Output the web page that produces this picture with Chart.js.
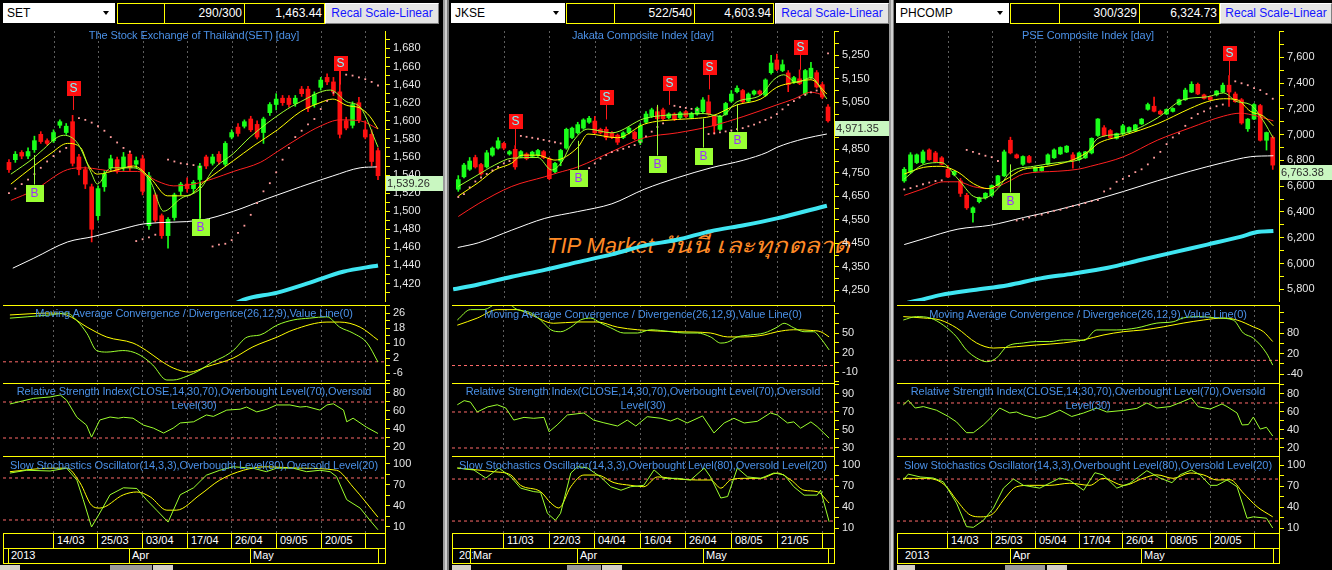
<!DOCTYPE html>
<html>
<head>
<meta charset="utf-8">
<title>TIP Market</title>
<script src="https://cdn.jsdelivr.net/npm/chart.js@4.4.1/dist/chart.umd.min.js"></script>
<style>
  html, body { margin: 0; padding: 0; background: #000; }
  body { width: 1332px; height: 570px; position: relative; overflow: hidden; font-family: "Liberation Sans", Arial, sans-serif; }
  .a { position: absolute; box-sizing: border-box; }
  .dd { background: #fff; color: #000; font-size: 12px; line-height: 20px; padding-left: 4px; height: 20px; }
  .dd::after { content: ''; position: absolute; right: 6px; top: 8px; border-left: 3px solid transparent; border-right: 3px solid transparent; border-top: 4px solid #000; }
  .bx { height: 21px; border: 1px solid #ff0; color: #fff; font-size: 12px; line-height: 19px; text-align: right; padding-right: 2px; }
  .btn { height: 21px; background: #e4e4e4; border: 1px solid; border-color: #fff #808080 #808080 #fff; color: #1414ff; font-size: 12px; line-height: 19px; text-align: center; }
  .ttl { color: #4a90e6; font-size: 11px; line-height: 13px; text-align: center; letter-spacing: -0.1px; white-space: nowrap; z-index: 3; }
  .hl { background: #ff0; height: 1px; z-index: 3; }
  .vl { background: #ff0; width: 1px; z-index: 3; }
  .lbl { color: #fff; font-size: 11px; line-height: 13px; z-index: 3; white-space: nowrap; }
  .wm { color: #ff8a26; font-size: 22px; font-style: italic; white-space: nowrap; z-index: 1; line-height: 26px; }
  .wm span { display: inline-block; transform: scaleX(1.17); transform-origin: 0 50%; }
  canvas { position: absolute; z-index: 2; }
</style>
</head>
<body>
<script>
// ==========================
// SET (Thailand)
// ==========================
const setOpen  = [1554,1557,1565,1561,1568,1585,1578,1578,1595,1587,1599,1560,1546,1527,1495,1527,1548,1557,1548,1563,1552,1558,1484,1518,1495,1473,1493,1522,1530,1525,1535,1560,1553,1563,1552,1582,1593,1594,1602,1596,1587,1609,1618,1625,1625,1619,1635,1635,1618,1637,1648,1643,1632,1600,1595,1620,1590,1585,1567];
const setHigh  = [1557,1566,1567,1570,1583,1588,1580,1590,1601,1597,1606,1563,1549,1530,1528,1545,1562,1560,1565,1566,1560,1562,1543,1520,1497,1493,1520,1532,1537,1534,1553,1562,1563,1566,1577,1590,1597,1601,1605,1600,1604,1620,1630,1628,1628,1628,1638,1638,1632,1648,1652,1648,1656,1604,1621,1626,1600,1590,1570];
const setLow   = [1543,1554,1558,1558,1565,1575,1573,1576,1592,1585,1550,1540,1525,1466,1490,1522,1545,1542,1545,1545,1548,1518,1480,1488,1470,1459,1490,1518,1521,1520,1489,1547,1551,1552,1550,1580,1583,1592,1588,1580,1575,1606,1612,1617,1615,1616,1627,1610,1615,1634,1640,1628,1581,1590,1592,1598,1580,1550,1535];
const setClose = [1546,1563,1561,1566,1578,1577,1575,1587,1599,1594,1553,1546,1530,1480,1525,1541,1558,1545,1560,1548,1556,1522,1539,1490,1473,1491,1518,1530,1525,1532,1550,1550,1560,1555,1575,1587,1586,1599,1590,1582,1602,1618,1624,1620,1618,1625,1630,1614,1629,1645,1643,1632,1585,1592,1618,1601,1582,1555,1539.26];
const setSar   = [1520,1525,1530,1535,1541,1548,1555,1561,1566,1570,null,1603,1601,1598,1594,1589,1582,1576,1570,1566,1467,1469,1471,1474,null,1557,1555,1553,1552,1551,1549,null,1461,1463,1464,1468,1476,1484,1496,1509,1522,1531,1543,1557,1570,1582,1589,1596,1602,1613,1622,1631,null,1651,1650,1648,1646,1643,1639];
const setMaGreen  = [[0.3,1541],[3.9,1559],[5,1566],[8.6,1584],[10.8,1575],[12.9,1543],[13.9,1530],[16,1548],[19.6,1548],[22.3,1532],[24.3,1500],[27,1514],[30.1,1525],[32.1,1546],[35.3,1564],[37.9,1582],[43.1,1610],[45.8,1621],[50.5,1634],[53.1,1621],[55.2,1615],[58,1571]];
const setMaYellow = [[0.3,1530],[3.9,1550],[6.6,1564],[9.2,1575],[11.3,1570],[12.4,1552],[13.9,1541],[17.1,1546],[19.6,1550],[22.3,1536],[24.9,1517],[28.1,1517],[30.6,1532],[35.3,1556],[38.4,1572],[42.2,1590],[45.8,1610],[48.9,1620],[50.9,1624],[53.1,1617],[55.2,1614],[56.7,1605],[58,1591]];
const setMaRed    = [[0.3,1512],[3.9,1523],[9.2,1546],[11.8,1548],[17.1,1544],[20.2,1544],[23.4,1533],[25.9,1528],[29,1530],[32.1,1536],[35.3,1544],[39.5,1554],[42.2,1566],[45.8,1582],[48.9,1594],[52,1601],[55.2,1600],[58,1591]];
const setMaWhite  = [[0.6,1437],[3.9,1448],[9.2,1466],[13.3,1472],[18.7,1482],[21.2,1486],[30.1,1490],[35.3,1500],[40.6,1514],[45.8,1527],[50.9,1539],[55.2,1548],[57.8,1549]];
const setMaCyan   = [[34.8,1395],[36.8,1402],[42.2,1410],[47.3,1421],[52.5,1433],[58,1440]];
const setMacd   = [[0.3,23.3],[3,24],[6.6,25],[9.2,26],[10.8,22],[12.4,15],[13.9,6],[15.5,5.2],[18,6],[19.6,5.2],[21.2,2.5],[22.7,-1.7],[24.9,-9.7],[25.9,-9.7],[28.1,-7.6],[30.1,-4.4],[32.1,0],[33.7,2.5],[35.3,6],[37.5,13.2],[39.5,14.3],[42.2,19.6],[44.7,22.3],[47.3,23.3],[50,24],[52,18.5],[54.1,15.3],[56.3,10],[58,-0.1]];
const setSignal = [[0.3,25],[6.6,26],[9.2,25],[12.4,18.5],[15.5,13.2],[19.6,10],[21.7,6],[23.8,0.9],[25.9,-3.3],[28.5,-5.5],[31,-2.8],[35.3,2],[38.4,8],[42.2,13.2],[44.7,17],[50,21.2],[52,21.2],[55.2,18.5],[58,11.6]];
const setRsi = [[0.3,67.8],[4,74],[6.6,75.6],[8.2,77.8],[9.2,72],[10.8,53],[12.3,44.4],[13.1,31],[14.4,50],[16,53.3],[17.3,52],[18.1,53],[19.6,52],[21.2,44.4],[22.8,41],[24.4,35.5],[25.9,41],[27,46.7],[29.1,48],[31.1,55.6],[32.2,54],[34.3,61],[36.4,62],[37.4,64.4],[39,59],[40.6,62],[42.1,66.7],[44.2,66.7],[45.8,64.4],[46.8,65],[48.9,61],[50,66.7],[51,68],[52.6,61],[53.1,48],[54.1,52],[56.2,42],[58,35]];
const setK = [[0.3,87],[2.9,91],[6.6,90],[9.2,94],[10.8,77],[11.8,49],[13.1,10],[14.4,30],[16,56],[18.1,66],[20.2,65],[21.7,49],[23.3,34],[25.1,17],[27,56],[29.1,66],[31.1,84],[33.2,91],[35.3,96],[38.4,94],[40.5,89],[42.1,94],[44.7,94],[46.8,89],[48.9,91],[50.5,89],[51.5,82],[53.1,49],[55.2,37],[56.7,20],[58,6]];
const setD = [[0.3,89],[6.6,94],[9.2,94],[11.3,73],[13.1,41],[14.4,37],[18.1,56],[20.2,60],[22.3,53],[24.9,34],[26.4,34],[30.1,56],[33.2,77],[36.9,91],[40.5,96],[45.8,94],[51.5,91],[54.1,67],[58,24]];
const setSigIdx = [10, 52, 4, 30];
const setSigType = ['S', 'S', 'B', 'B'];
const setSigEnd = [1612, 1640, 1562, 1532];
const setSigBox = [1636, 1664, 1520, 1482];
const setPriceLabels = [1420,1440,1460,1480,1500,1520,1540,1560,1580,1600,1620,1640,1660,1680];
const setMacdLabels = [26, 18, 10, 2, -6];
const setRsiLabels = [80, 60, 40, 20];
const setStoLabels = [100, 70, 40, 10];
const setGridIdx = [7, 14, 21, 28, 35, 42, 49, 56];
const setDateLabels = ['14/03', '25/03', '03/04', '17/04', '26/04', '09/05', '20/05', ''];
const setMonthIdx = [0, 19, 38, 58];
const setMonthLabels = ['2013', 'Apr', 'May', ''];

// ==========================
// JKSE (Jakarta)
// ==========================
const jkOpen  = [4680,4733,4765,4815,4785,4775,4825,4855,4875,4830,4850,4820,4830,4820,4825,4840,4810,4755,4800,4855,4900,4920,4940,4965,4970,4935,4935,4920,4910,4900,4920,4922,4880,4965,4990,5010,5018,4985,5000,4985,5010,4985,5000,5010,5052,4990,4935,4998,5055,5095,5100,5055,5085,5098,5080,5176,5230,5185,5175,5135,5150,5085,5155,5176,5125,5030];
const jkHigh  = [4738,4790,4815,4825,4790,4845,4860,4900,4880,4845,4866,4845,4835,4842,4850,4845,4815,4795,4850,4940,4945,4965,4980,4990,4990,4940,4945,4925,4915,4925,4945,4928,4960,5010,5025,5030,5025,5005,5005,5010,5015,5008,5030,5070,5080,4995,4995,5050,5100,5120,5105,5090,5102,5102,5150,5250,5255,5230,5185,5160,5188,5190,5220,5185,5135,5040];
const jkLow   = [4671,4728,4760,4770,4740,4770,4820,4850,4848,4825,4765,4815,4805,4815,4820,4810,4720,4750,4780,4850,4895,4915,4935,4960,4915,4915,4890,4895,4870,4895,4915,4890,4870,4960,4985,4975,4975,4980,4972,4980,4985,4980,4995,5005,4995,4915,4930,4995,5050,5090,5045,5050,5080,5080,5075,5170,5185,5180,5095,5130,5125,5080,5150,5110,5065,4965];
const jkClose = [4721,4783,4800,4775,4745,4835,4855,4886,4855,4840,4775,4840,4810,4838,4845,4815,4725,4790,4845,4935,4940,4955,4975,4982,4920,4920,4900,4900,4880,4920,4940,4895,4950,5000,5018,4980,4980,5000,4978,5005,4990,5002,5025,5060,5000,4950,4990,5045,5085,5110,5052,5085,5098,5085,5145,5217,5190,5210,5125,5155,5130,5185,5195,5115,5072,4971.35];
const jkSar   = [4647,4659,4688,4713,4730,4745,4760,4775,4790,4800,null,4907,4903,4899,4895,4890,4885,4880,4875,null,4742,4748,4755,4770,4790,4810,4825,4838,4845,4852,4860,4868,4880,4905,4925,4945,4960,null,5035,5030,5026,5022,5018,null,4915,4918,4922,4926,4930,4936,4940,4948,4955,4965,4975,4985,5000,5020,5039,5055,5070,5082,5092,5100,null,5258];
const jkMaGreen  = [[0,4692],[3.5,4742],[6.4,4783],[9.4,4812],[14,4815],[16.4,4762],[18.2,4796],[19.9,4874],[22.8,4936],[27,4920],[32.7,4981],[38.5,4998],[43.2,5002],[46.2,4990],[49,5052],[53.2,5081],[55.5,5147],[57.2,5167],[59.5,5134],[62,5155],[64.8,5064]];
const jkMaYellow = [[0,4651],[3.5,4708],[6.4,4762],[9.4,4791],[11.2,4825],[14,4825],[15.7,4812],[17,4804],[21,4858],[22.8,4915],[28,4899],[32.7,4957],[38.5,4977],[41.5,4981],[44.4,4990],[49,5039],[53.2,5064],[56,5114],[59,5134],[62,5146],[64.8,5085]];
const jkMaRed    = [[0,4564],[3.5,4618],[9.4,4692],[15.2,4733],[17.5,4750],[21,4775],[27,4840],[32.7,4899],[38.5,4920],[44.4,4948],[50.2,4990],[56,5039],[59,5064],[62,5093],[64.3,5080]];
const jkMaWhite  = [[-0.1,4432],[3.5,4452],[9.4,4506],[15.2,4556],[21,4585],[27,4618],[32.7,4680],[38.5,4729],[44.4,4771],[50.2,4804],[54.3,4837],[56,4858],[60.8,4895],[64.8,4915]];
const jkMaCyan   = [[-0.9,4254],[3.5,4275],[9.4,4308],[15.2,4337],[21,4370],[27,4403],[32.7,4440],[38.5,4465],[44.4,4502],[50.2,4527],[56,4556],[64.8,4610]];
const jkMacd   = [[0,70],[2.3,86],[4.7,86],[7,95],[8.8,95],[10.5,86],[12.9,81],[14.6,70],[16.4,55],[18.1,52],[19.9,59],[21.6,70],[23.4,73],[25.1,65.5],[26.9,58],[29.2,50],[31.6,50],[33.9,55],[37.4,52],[39.8,50],[42.1,50],[44.4,44],[46.2,34.5],[47.4,36],[49.1,44],[51.4,47],[53.8,50],[56.1,59],[57.3,65],[59,58],[60.8,52],[62.5,52],[63.7,42],[65.2,24]];
const jkSignal = [[0,62],[3.5,73],[7,86],[10.5,86],[12.9,78],[16.9,65],[21.1,67],[24.5,67],[28.1,59],[31.6,55],[38.6,52],[44.4,50],[47.4,44],[50.3,44],[53.8,47],[56.1,52],[59,55],[62,54],[63.7,52],[65.2,44]];
const jkRsi = [[0,78],[1.2,82.6],[2.3,81],[3.5,70],[5.3,75.6],[7,78],[8.5,74.4],[9.9,61],[11.7,64],[13.4,63],[15.2,64],[16.1,48],[17.5,55.6],[19.3,66.7],[22.2,68.9],[23.9,61],[25.7,58],[28.1,54.4],[29.8,61],[31.3,54.4],[33.3,64.8],[35.7,63],[37.4,60],[38.6,63],[40.3,57.8],[43,65.6],[45,46.7],[46.8,57.8],[48.5,63],[50.3,57.8],[52.6,59.6],[54.9,68.9],[56.1,66.7],[57.9,57.8],[59,59],[60.2,52],[62,59],[63.1,53.7],[65.2,41]];
const jkK = [[0,95.7],[2.9,92.9],[5,81.4],[7.3,95.7],[9.4,83],[11.1,67],[13.4,62],[14.6,61],[15.8,31],[17.2,21],[18.1,31],[19.9,88.6],[21.1,97.6],[22.8,96],[25.1,83],[26.9,69],[28.7,64],[30.4,69],[32.7,71],[34.5,93],[36.2,81],[38.6,81],[40.9,78.6],[43.3,95.7],[44.4,83],[46.2,52.9],[47.4,55],[49.1,95.7],[50.9,83],[53.2,81],[55.5,88.6],[57.3,86],[59,69],[60.8,57],[63.1,57],[63.7,64],[65.2,19]];
const jkD = [[0,95.7],[3.5,93],[6.4,90.5],[9.4,85.7],[11.1,71],[14.6,62],[16.4,45.7],[17.8,38.6],[19.9,69],[22.2,85.7],[24.5,85.7],[27.5,74.8],[30.4,71],[32.7,69],[35.1,83],[38.6,80],[42.1,78.6],[44.4,78.6],[46.2,67],[47.9,78.6],[50.3,81],[53.2,81],[56.1,88.6],[58.5,78.6],[60.8,64],[63.1,62],[65.2,45.7]];
const jkSigIdx = [10, 26, 37, 44, 60, 21, 35, 43, 49];
const jkSigType = ['S', 'S', 'S', 'S', 'S', 'B', 'B', 'B', 'B'];
const jkSigEnd = [4866, 4977, 5039, 5105, 5188, 4886, 5039, 4981, 5043];
const jkSigBox = [4969, 5072, 5134, 5200, 5287, 4729, 4787, 4820, 4889];
const jkPriceLabels = [4250,4350,4450,4550,4650,4750,4850,4950,5050,5150,5250];
const jkMacdLabels = [50, 20, -10];
const jkRsiLabels = [90, 70, 50, 30];
const jkStoLabels = [100, 70, 40, 10];
const jkGridIdx = [8, 16, 24, 32, 40, 48, 56, 64];
const jkDateLabels = ['11/03', '22/03', '04/04', '16/04', '26/04', '08/05', '21/05', ''];
const jkMonthIdx = [2.2, 21, 43, 65];
const jkMonthLabels = ['Mar', 'Apr', 'May', ''];

// ==========================
// PHCOMP (Philippines)
// ==========================
const phOpen  = [6641,6709,6783,6783,6881,6858,6820,6731,6690,6641,6529,6395,6480,6510,6530,6605,6680,6956,6843,6770,6830,6716,6720,6770,6820,6850,6865,6843,6806,6820,6858,6993,7053,7031,6971,7008,7020,7031,7083,7196,7220,7181,7160,7180,7233,7270,7330,7390,7308,7293,7308,7330,7383,7315,7270,7045,7120,7225,6956,6978];
const phHigh  = [6745,6860,6850,6880,6890,6870,6830,6760,6720,6660,6545,6440,6515,6550,6610,6685,6880,6980,6850,6835,6840,6750,6755,6850,6890,6905,6915,6860,6865,6870,6975,7125,7070,7040,7012,7080,7060,7080,7125,7245,7290,7190,7200,7208,7275,7360,7410,7400,7315,7300,7342,7400,7458,7330,7280,7125,7240,7235,7020,6990];
const phLow   = [6630,6700,6775,6775,6800,6785,6765,6665,6680,6520,6420,6320,6470,6500,6520,6600,6675,6850,6815,6760,6780,6710,6715,6765,6815,6845,6860,6740,6800,6815,6850,6985,6985,6970,6965,7000,7015,7025,7078,7190,7175,7155,7155,7175,7228,7265,7325,7310,7275,7265,7300,7325,7218,7250,7080,7025,7115,6950,6880,6730];
const phClose = [6731,6843,6843,6866,6806,6790,6770,6671,6715,6544,6432,6432,6510,6545,6605,6680,6866,6858,6820,6830,6785,6746,6750,6843,6881,6900,6910,6806,6858,6866,6971,7121,6993,6978,7008,7068,7055,7075,7120,7233,7181,7160,7195,7203,7270,7345,7390,7315,7280,7270,7338,7383,7330,7255,7090,7120,7233,6956,7016,6763.38];
const phSar   = [6575,6585,6600,6615,6628,6640,6645,null,null,null,6881,6866,6851,6836,6825,6795,null,null,6334,6342,6357,6372,6379,6394,6409,6417,6432,6447,6454,6469,6484,6492,6559,6581,6634,6656,6679,6709,6731,6769,6821,6866,6926,6978,7010,7068,7128,7160,7180,7203,7220,7233,null,7413,7398,7383,7360,7345,7315,7278];
const phMaGreen  = [[0,6656],[3.1,6768],[5.9,6783],[8.6,6656],[11.1,6521],[12.7,6507],[15,6581],[17,6709],[20.7,6754],[24.6,6783],[28.7,6821],[31,6971],[35.1,7008],[40.5,7128],[44.6,7270],[48.5,7293],[51.1,7323],[53.3,7255],[55.4,7233],[57.5,7106],[59.1,6971]];
const phMaYellow = [[0,6694],[3.1,6746],[5.9,6754],[8.6,6709],[11.1,6619],[13.4,6581],[15.9,6641],[19.1,6731],[21.8,6746],[27.1,6806],[29.8,6880],[31,6930],[35.1,6993],[40.5,7083],[45.8,7203],[48.5,7255],[51.1,7278],[53.3,7270],[55.4,7181],[57.5,7143],[59.1,7068]];
const phMaRed    = [[0,6529],[3.1,6581],[6.3,6634],[8.6,6634],[11.1,6596],[13.8,6581],[16.6,6634],[19.1,6694],[24.6,6716],[27.8,6731],[29.8,6754],[35.1,6828],[40.5,6956],[45.8,7053],[51.1,7143],[53.8,7166],[56.5,7143],[59.1,7106]];
const phMaWhite  = [[0,6147],[3.1,6192],[8.6,6267],[13.8,6297],[19.1,6357],[24.6,6417],[29.8,6484],[35.1,6559],[40.5,6641],[45.8,6716],[51.1,6783],[55.4,6828],[59.1,6836]];
const phMaCyan   = [[0,5690],[2.2,5713],[5.9,5757],[11.1,5795],[16.6,5832],[21.8,5885],[27.1,5922],[32.6,5967],[37.8,6027],[43.1,6087],[48.5,6147],[53.8,6207],[56.5,6244],[59.1,6252]];
const phMacd   = [[0,118],[2.1,128],[4.3,124],[6.4,103],[8.5,69],[10.1,30],[11.7,7],[13.3,-4],[14.9,7],[16.5,40],[19.2,51],[21.3,55],[23.4,55],[25.6,60],[27.7,60],[28.8,58],[30.9,89],[34.1,89],[37.3,95],[40.5,109],[43.1,113],[44.7,124],[47.4,128],[50.1,124],[52.7,118],[54.3,80],[55.9,65],[58,21],[59,-14]];
const phSignal = [[0,128],[3.2,124],[5.9,118],[8.5,95],[11.7,51],[14.4,36],[18.1,40],[21.3,45],[25.6,51],[28.8,60],[31.9,74],[35.2,84],[38.3,89],[41.5,98],[44.7,109],[47.9,118],[51.1,124],[53.3,118],[55.9,98],[57.5,84],[59,55]];
const phRsi = [[0,67.8],[0.8,73],[1.9,64.4],[3.2,66],[5.3,62],[7.2,55],[8.5,49],[10.1,37],[11.2,37],[12.8,45.6],[13.9,53],[15.4,64.4],[17,58.9],[18.1,60],[19.2,56.7],[21.3,53],[22.9,55.6],[25,62],[26.9,55],[28.8,58.9],[30.9,64.4],[32.5,60],[35.2,61.8],[37.3,64],[38.9,70],[40.5,64.4],[42.6,66],[44.2,70.4],[46,75.6],[47.1,65.9],[49,63.3],[50.9,68.9],[51.7,66],[53.3,58.9],[54.1,45.6],[55.1,46],[55.9,54.4],[57,41],[58,43],[59,33.3]];
const phK = [[0,78.6],[0.8,87],[2.7,83],[4.8,81.4],[6.4,76],[8.5,45.7],[10.1,12],[11.2,11],[12.8,21],[14.4,38.6],[16,67],[17.6,80],[19.2,71],[21.8,67],[25,81.4],[26.6,78],[28.8,64],[30.6,89],[31.9,86],[34.1,67],[36.2,74],[38.9,91.9],[41,81.4],[42.9,74.8],[44.2,86],[46,92.9],[47.4,86],[49,71],[50.1,71],[51.7,78.6],[53.3,69],[54.9,24],[55.9,26],[58,24],[59,10]];
const phD = [[0,81],[3.2,81],[5.3,78.6],[6.9,69],[8.5,50],[10.7,28.6],[12.3,26],[14.4,31],[16,50],[18.1,69],[20.2,71],[23.4,71],[26.6,74],[29.8,71],[31.9,81],[35.2,71],[38.3,81],[40.5,86],[43.1,81],[45.8,88.6],[47.9,86],[50.1,78.6],[52.2,79],[54.3,60],[56.5,40.5],[59,26]];
const phSigIdx = [52, 17];
const phSigType = ['S', 'B'];
const phSigEnd = [7458, 6769];
const phSigBox = [7630, 6484];
const phPriceLabels = [5800,6000,6200,6400,6600,6800,7000,7200,7400,7600];
const phMacdLabels = [80, 20, -40];
const phRsiLabels = [80, 60, 40, 20];
const phStoLabels = [100, 70, 40, 10];
const phGridIdx = [7, 14, 21, 28, 35, 42, 49, 56];
const phDateLabels = ['14/03', '25/03', '05/04', '17/04', '26/04', '08/05', '20/05', ''];
const phMonthIdx = [17, 38, 59];
const phMonthLabels = ['Apr', 'May', ''];

const levelMacd = [0];
const levelRsi = [70, 30];
const levelSto = [80, 20];

// ==========================
// STYLE
// ==========================
const UP = '#1aff1a', DN = '#ff1010';
const C_GREEN = '#9cff2e', C_YEL = '#ffff00', C_RED = '#ff2020', C_WHITE = '#ffffff', C_CYAN = '#3fe6f2';

const panels = [
  { left: 0, width: 444, axisW: 59, xMin: -0.78, xMax: 59.1,
    dd: [3, 115], boxes: [117, 164, 244, 324], btn: [325, 439],
    sym: 'SET', cnt: '290/300', val: '1,463.44',
    title: 'The Stock Exchange of Thailand(SET) [day]',
    o: setOpen, h: setHigh, l: setLow, c: setClose, sar: setSar,
    ma: [setMaCyan, setMaWhite, setMaRed, setMaYellow, setMaGreen],
    price: [1400.7, 1699.3, setPriceLabels], macd: [-11.3, 30.3, setMacdLabels], rsi: [10, 91.1, setRsiLabels], sto: [1.4, 111.4, setStoLabels],
    macdA: setMacd, macdB: setSignal, rsiA: setRsi, kA: setK, dA: setD,
    sig: [setSigIdx, setSigType, setSigEnd, setSigBox],
    grid: setGridIdx, dates: setDateLabels, months: setMonthIdx, monthLbl: setMonthLabels, year: null,
    macdTop: 307 },
  { left: 449, width: 441, axisW: 56, xMin: -0.93, xMax: 66.05,
    dd: [451, 565], boxes: [566, 614, 694, 773], btn: [775, 889],
    sym: 'JKSE', cnt: '522/540', val: '4,603.94',
    title: 'Jakata Composite Index [day]',
    o: jkOpen, h: jkHigh, l: jkLow, c: jkClose, sar: jkSar,
    ma: [jkMaCyan, jkMaWhite, jkMaRed, jkMaYellow, jkMaGreen],
    price: [4204.5, 5353.3, jkPriceLabels], macd: [-26.9, 93.1, jkMacdLabels], rsi: [21.1, 102.2, jkRsiLabels], sto: [2.9, 112.9, jkStoLabels],
    macdA: jkMacd, macdB: jkSignal, rsiA: jkRsi, kA: jkK, dA: jkD,
    sig: [jkSigIdx, jkSigType, jkSigEnd, jkSigBox],
    grid: jkGridIdx, dates: jkDateLabels, months: jkMonthIdx, monthLbl: jkMonthLabels, year: 7,
    macdTop: 308 },
  { left: 894, width: 438, axisW: 53, xMin: -1.0, xMax: 60.0,
    dd: [896, 1009], boxes: [1010, 1059, 1139, 1219], btn: [1220, 1332],
    sym: 'PHCOMP', cnt: '300/329', val: '6,324.73',
    title: 'PSE Composite Index [day]',
    o: phOpen, h: phHigh, l: phLow, c: phClose, sar: phSar,
    ma: [phMaCyan, phMaWhite, phMaRed, phMaYellow, phMaGreen],
    price: [5709.6, 7803.3, phPriceLabels], macd: [-66.3, 162, phMacdLabels], rsi: [11.1, 92.2, phRsiLabels], sto: [2.9, 112.9, phStoLabels],
    macdA: phMacd, macdB: phSignal, rsiA: phRsi, kA: phK, dA: phD,
    sig: [phSigIdx, phSigType, phSigEnd, phSigBox],
    grid: phGridIdx, dates: phDateLabels, months: phMonthIdx, monthLbl: phMonthLabels, year: 8,
    macdTop: 308 }
];

// ==========================
// HELPERS
// ==========================
function el(cls, x, y, w, h, txt, css) {
  const d = document.createElement('div');
  d.className = 'a ' + cls;
  d.style.left = x + 'px';
  d.style.top = y + 'px';
  if (w != null) d.style.width = w + 'px';
  if (h != null) d.style.height = h + 'px';
  if (txt) d.textContent = txt;
  if (css) Object.assign(d.style, css);
  document.body.appendChild(d);
  return d;
}

const pts = pairs => pairs.map(([x, y]) => ({ x, y }));

function tickList(labels, min, max) {
  const half = Math.abs(labels[1] - labels[0]) / 2;
  const out = [];
  for (let v = labels[0] - Math.ceil((labels[0] - min) / half) * half; v <= max; v += half) {
    if (v >= min) out.push(v);
  }
  return out;
}

function yScale(p, [min, max, labels], fmt) {
  const ticks = tickList(labels, min, max);
  return {
    position: 'right', min, max,
    afterBuildTicks: s => { s.ticks = ticks.map(value => ({ value })); },
    afterFit: s => { s.width = p.axisW; s.paddingTop = 0; s.paddingBottom = 0; },
    ticks: { autoSkip: false, color: '#e6e6e6', padding: 3, font: { size: 11 },
             callback: v => labels.includes(v) ? fmt(v) : '' },
    grid: { drawOnChartArea: false, color: '#ffff00', tickLength: 5 },
    border: { color: '#ffff00' }
  };
}

function lineSet(data, color, width, order, smooth) {
  return { type: 'line', data: pts(data), borderColor: color, borderWidth: width, pointRadius: 0,
           cubicInterpolationMode: smooth ? 'monotone' : 'default', tension: 0, clip: 0, order };
}

function levelSets(p, levels) {
  return levels.map(v => ({ type: 'line', data: [{ x: p.xMin, y: v }, { x: p.xMax, y: v }],
    borderColor: '#ff6a6a', borderWidth: 1, borderDash: [3, 3], pointRadius: 0, clip: 0, order: 20 }));
}

const vGrid = idxs => ({
  id: 'vgrid',
  beforeDatasetsDraw(chart) {
    const { ctx, chartArea: a, scales: { x } } = chart;
    ctx.save();
    ctx.strokeStyle = '#5e5e5e';
    ctx.lineWidth = 1;
    ctx.setLineDash([2, 3]);
    idxs.forEach(i => {
      const px = Math.round(x.getPixelForValue(i)) + 0.5;
      ctx.beginPath(); ctx.moveTo(px, a.top); ctx.lineTo(px, a.bottom); ctx.stroke();
    });
    ctx.restore();
  }
});

const sigPlugin = ([idx, type, end, box]) => ({
  id: 'signals',
  afterDatasetsDraw(chart) {
    const { ctx, scales: { x, y } } = chart;
    ctx.save();
    ctx.font = '12px "Liberation Sans", Arial, sans-serif';
    ctx.textAlign = 'center';
    ctx.textBaseline = 'middle';
    idx.forEach((i, k) => {
      const isS = type[k] === 'S';
      const w = isS ? 14 : 18, h = isS ? 15 : 17;
      const px = Math.round(x.getPixelForValue(i)) + 0.5;
      const by = Math.round(y.getPixelForValue(box[k]));
      const ey = y.getPixelForValue(end[k]);
      ctx.strokeStyle = isS ? '#ff1a1a' : '#99ff33';
      ctx.lineWidth = 1;
      ctx.beginPath(); ctx.moveTo(px, isS ? by + h / 2 : by - h / 2); ctx.lineTo(px, ey); ctx.stroke();
      ctx.fillStyle = isS ? '#ff1010' : '#99ff33';
      ctx.fillRect(Math.round(px - w / 2), Math.round(by - h / 2), w, h);
      ctx.fillStyle = isS ? '#7ff7ff' : '#9a33ff';
      ctx.fillText(type[k], px, by + 1);
    });
    ctx.restore();
  }
});

const lastPlugin = val => ({
  id: 'lastPrice',
  afterDraw(chart) {
    const { ctx, chartArea: a, scales: { y } } = chart;
    const py = Math.round(y.getPixelForValue(val));
    ctx.save();
    ctx.fillStyle = '#c9f7c1';
    ctx.fillRect(a.right + 1, py, chart.width - a.right - 1, 15);
    ctx.fillStyle = '#2b2b2b';
    ctx.font = '11px "Liberation Sans", Arial, sans-serif';
    ctx.textBaseline = 'middle';
    ctx.fillText(val.toLocaleString('en-US', { minimumFractionDigits: 2 }), a.right + 2, py + 8);
    ctx.restore();
  }
});

function subChart(p, top, h, y, datasets, plugins) {
  const cv = document.createElement('canvas');
  cv.width = p.width;
  cv.height = h;
  cv.style.left = p.left + 'px';
  cv.style.top = top + 'px';
  document.body.appendChild(cv);
  return new Chart(cv, {
    type: 'bar',
    data: { datasets },
    options: {
      responsive: false, animation: false, devicePixelRatio: 1, events: [],
      layout: { padding: { left: 3, right: 0, top: 0, bottom: 0 } },
      scales: { x: { type: 'linear', display: false, offset: false, min: p.xMin, max: p.xMax }, y },
      plugins: { legend: { display: false }, tooltip: { enabled: false } }
    },
    plugins: [vGrid(p.grid), ...plugins]
  });
}

const fmtPrice = v => v.toLocaleString('en-US');
const fmtPlain = v => String(v);

// ==========================
// BUILD
// ==========================
Chart.defaults.font.family = '"Liberation Sans", Arial, sans-serif';

// watermark (under the charts)
const wm = el('wm', 547, 233, null, null, 'TIP Market ');
const thai = document.createElement('span');
thai.textContent = 'วันนี้ เละทุกตลาด';
wm.appendChild(thai);

panels.forEach(p => {
  // header
  el('dd', p.dd[0], 3, p.dd[1] - p.dd[0], 20, p.sym);
  const b = p.boxes;
  el('bx', b[0], 3, b[1] - b[0] + 1, 21);
  el('bx', b[1], 3, b[2] - b[1] + 1, 21, p.cnt);
  el('bx', b[2], 3, b[3] - b[2] + 1, 21, p.val);
  el('btn', p.btn[0], 3, p.btn[1] - p.btn[0], 21, 'Recal Scale-Linear');

  const col = ctx => (p.c[ctx.dataIndex] >= p.o[ctx.dataIndex] ? UP : DN);
  const maColors = [C_CYAN, C_WHITE, C_RED, C_YEL, C_GREEN];
  const maWidths = [4, 1, 1, 1, 1];

  const priceSets = [
    ...p.ma.map((m, k) => lineSet(m, maColors[k], maWidths[k], 5 - k, true)),
    { type: 'line', data: p.sar.map((y, x) => ({ x, y })), showLine: false, pointStyle: 'rect',
      pointRadius: 1.3, pointBackgroundColor: '#ff9c9c', pointBorderWidth: 0, clip: 0, order: 0 },
    { type: 'bar', data: p.o.map((v, i) => ({ x: i, y: [p.l[i], p.h[i]] })), backgroundColor: col,
      barThickness: 1, grouped: false, order: 10 },
    { type: 'bar', data: p.o.map((v, i) => ({ x: i, y: [v, p.c[i]] })), backgroundColor: col,
      barThickness: 4, grouped: false, order: 9 }
  ];
  subChart(p, 27, 278, yScale(p, p.price, fmtPrice), priceSets,
    [sigPlugin(p.sig), lastPlugin(p.c[p.c.length - 1])]);

  subChart(p, 305, 78, yScale(p, p.macd, fmtPlain), [
    ...levelSets(p, levelMacd),
    lineSet(p.macdB, C_YEL, 1, 2, true),
    lineSet(p.macdA, C_GREEN, 1, 1, true)
  ], []);

  subChart(p, 383, 73, yScale(p, p.rsi, fmtPlain), [
    ...levelSets(p, levelRsi),
    lineSet(p.rsiA, C_GREEN, 1, 1, false)
  ], []);

  const sto = subChart(p, 456, 77, yScale(p, p.sto, fmtPlain), [
    ...levelSets(p, levelSto),
    lineSet(p.dA, C_YEL, 1, 2, true),
    lineSet(p.kA, C_GREEN, 1, 1, false)
  ], []);

  // frame, titles and date rows
  const L = p.left + sto.chartArea.left;
  const R = p.left + sto.chartArea.right;
  const W = R - L;
  const px = v => Math.round(p.left + sto.scales.x.getPixelForValue(v));

  el('ttl', L, 29, W, 13, p.title);
  el('ttl', L, p.macdTop, W, 13, 'Moving Average Convergence / Divergence(26,12,9),Value Line(0)');
  el('ttl', L, 385, W, 13, 'Relative Strength Index(CLOSE,14,30,70),Overbought Level(70),Oversold');
  el('ttl', L, 399, W, 13, 'Level(30)');
  el('ttl', L, 459, W, 13, 'Slow Stochastics Oscillator(14,3,3),Overbought Level(80),Oversold Level(20)');

  [305, 383, 456, 533, 548, 563].forEach(yy => el('hl', L, yy, W + 1, 1));
  el('vl', L, 533, 1, 31);
  el('vl', R, 533, 1, 31);

  p.grid.forEach((g, k) => {
    const gx = px(g);
    el('vl', gx, 533, 1, 15);
    if (p.dates[k]) el('lbl', gx + 4, 534, null, null, p.dates[k]);
  });
  if (p.year != null) el('lbl', L + p.year, 549, null, null, '2013');
  p.months.forEach((m, k) => {
    const mx = px(m);
    el('vl', mx, 548, 1, 15);
    if (p.monthLbl[k]) el('lbl', mx + 3, 549, null, null, p.monthLbl[k], { background: '#000', paddingRight: '1px' });
  });
});

// panel separators and bottom scroll strip
[[443, 2, '#9a9a9a'], [445, 2, '#d0d0d0'], [447, 2, '#7a7a7a'],
 [889, 2, '#9a9a9a'], [891, 2, '#d0d0d0'], [893, 1, '#7a7a7a']].forEach(([x, w, c]) =>
  el('', x, 0, w, 570, null, { background: c, zIndex: 4 }));
[[0, 20, '#d4d0c8'], [110, 42, '#9c9c9c'], [153, 20, '#d4d0c8'],
 [452, 19, '#d4d0c8'], [567, 34, '#9c9c9c'], [602, 20, '#d4d0c8'],
 [897, 18, '#d4d0c8'], [1005, 40, '#9c9c9c'], [1047, 20, '#d4d0c8']].forEach(([x, w, c]) =>
  el('', x, 565, w, 5, null, { background: c, zIndex: 4 }));
</script>
</body>
</html>
